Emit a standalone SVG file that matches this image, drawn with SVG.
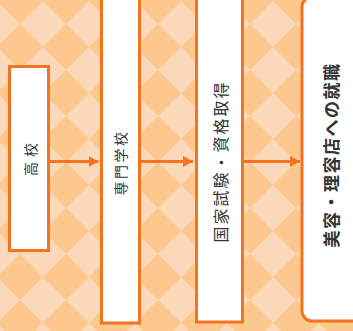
<svg xmlns="http://www.w3.org/2000/svg" width="353" height="331" viewBox="0 0 353 331">
<style>
.box{fill:#ffffff;stroke:#f47321;stroke-width:3}
.lbl{font-family:"Noto Sans CJK JP","Noto Sans",sans-serif;fill:#333333;text-anchor:middle;dominant-baseline:central}
.conn line{stroke:#f47321;stroke-width:3}
</style>
<defs>
<pattern id="chk" patternUnits="userSpaceOnUse" x="20" y="1" width="46" height="46">
<rect width="46" height="46" fill="#fcc88e"/>
<polygon points="0,23 23,0 46,23 23,46" fill="#fdd9bb"/>
</pattern>
<marker id="ah" markerUnits="userSpaceOnUse" markerWidth="10" markerHeight="12" refX="10" refY="6" orient="auto">
<polygon points="0,0.5 10,6 0,11.5" fill="#f47321"/>
</marker>
</defs>
<rect width="353" height="331" fill="url(#chk)"/>
<g class="conn">
<line x1="50" y1="161.5" x2="98.5" y2="161.5" marker-end="url(#ah)"/>
<line x1="140" y1="161.5" x2="193" y2="161.5" marker-end="url(#ah)"/>
<line x1="244" y1="161.5" x2="300" y2="161.5" marker-end="url(#ah)"/>
</g>
<g id="n1">
<rect class="box" x="9.5" y="66.5" width="39" height="184"/>
<text class="lbl" transform="translate(30,157) rotate(-90)" font-size="14" letter-spacing="5">高校</text>
</g>
<g id="n2">
<rect class="box" x="101.5" y="-10" width="38" height="333"/>
<text class="lbl" transform="translate(120,162.5) rotate(-90)" font-size="14" letter-spacing="2.5">専門学校</text>
</g>
<g id="n3">
<rect class="box" x="196.5" y="-10" width="46" height="332"/>
<text class="lbl" transform="translate(220,161.5) rotate(-90)" font-size="16" letter-spacing="2">国家試験・資格取得</text>
</g>
<g id="n4">
<rect class="box" x="302" y="-3" width="62" height="324" rx="10"/>
<text class="lbl" transform="translate(330,155) rotate(-90)" font-size="17" font-weight="bold" letter-spacing="1.5">美容・理容店への就職</text>
</g>
</svg>
